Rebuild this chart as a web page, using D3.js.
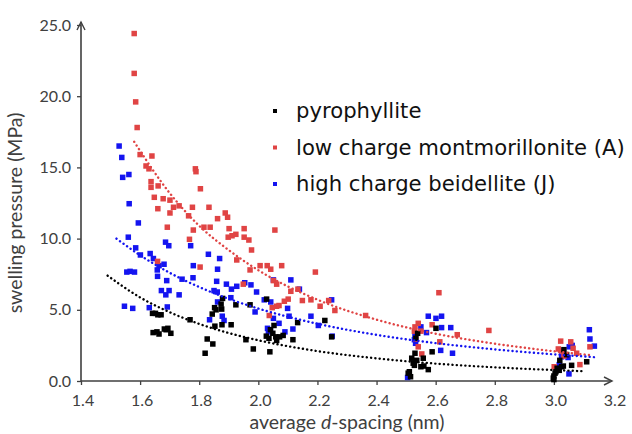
<!DOCTYPE html>
<html lang="en">
<head>
<meta charset="utf-8">
<title>swelling pressure vs d-spacing</title>
<script src="https://cdn.jsdelivr.net/npm/d3@7"></script>
<style>
  body { margin: 0; background: #fff; }
  svg text { font-family: Lato, "Open Sans", sans-serif; fill: #404040; }
  .legend text { font-family: "DejaVu Sans", Verdana, sans-serif; fill: #111; }
</style>
</head>
<body>
<svg id="chart" width="632" height="434"></svg>
<script>
// series data, [d-spacing nm, pressure MPa]
var pyrophyllite = [
  [1.642,4.75],[1.652,4.75],[1.660,4.65],[1.671,4.65],[1.644,3.4],[1.657,3.45],[1.664,3.3],
  [1.682,3.65],[1.694,3.7],[1.704,3.35],[1.688,3.6],[1.769,4.3],[1.827,2.95],[1.846,2.6],
  [1.820,1.95],[1.852,5.15],[1.857,5.0],[1.844,4.7],[1.879,5.8],[1.874,5.4],[1.876,5.05],
  [1.853,3.85],[1.877,3.95],[1.908,3.95],[1.924,5.35],[1.958,2.9],[1.972,5.35],[1.983,2.25],
  [2.028,5.75],[2.053,3.9],[2.041,3.6],[2.027,3.15],[2.036,3.0],[2.049,3.35],[2.059,3.1],
  [2.072,3.1],[2.084,3.2],[2.062,2.85],[2.039,2.05],[2.117,2.9],[2.133,4.1],[2.225,4.25],
  [2.248,3.1],
  [2.511,0.65],[2.515,0.3],[2.507,0.55],[2.519,1.6],[2.524,1.25],[2.528,1.1],[2.536,1.45],
  [2.533,3.0],[2.539,3.35],[2.530,1.95],[2.550,1.0],[2.560,1.05],[2.575,0.8],[2.558,1.6],
  [2.601,3.7],[2.588,2.05],
  [2.998,0.2],[3.000,0.35],[3.004,0.55],[3.007,0.65],[3.011,0.9],[3.018,0.75],[3.026,1.0],
  [3.032,1.05],[3.034,2.2],[3.020,1.45],[3.060,1.1],[3.111,1.35],[3.000,0.1],[3.043,1.85]
];
var lowChargeA = [
  [1.58,24.4],[1.58,21.6],[1.585,19.6],[1.59,17.8],[1.60,15.9],[1.64,15.8],[1.62,15.1],
  [1.63,14.9],[1.637,14.0],[1.637,13.6],[1.661,13.7],[1.787,14.9],[1.789,14.7],[1.804,13.5],
  [1.648,12.9],[1.678,12.8],[1.701,12.7],[1.660,12.1],[1.713,12.2],[1.732,12.3],[1.777,12.2],
  [1.833,12.2],[1.701,11.8],[1.764,11.6],[1.888,11.8],[1.896,11.5],[1.862,11.4],[1.692,10.8],
  [1.780,10.6],[1.816,10.8],[1.837,10.8],[1.901,10.7],[1.924,10.3],[1.911,10.2],[1.898,10.1],
  [1.767,9.95],[1.952,10.7],[2.056,10.6],[1.952,10.1],[1.968,9.9],[1.977,9.2],[1.927,8.5],
  [1.803,8.0],[1.972,7.8],[2.006,8.1],[2.030,8.1],[2.042,7.85],[2.079,8.1],[2.193,7.65],
  [1.659,8.4],[2.051,7.05],[2.062,6.8],[1.949,6.8],[2.134,6.45],[2.110,6.3],[2.101,5.75],
  [2.088,5.6],[2.149,5.65],[2.178,5.7],[2.209,5.25],[2.238,5.65],[2.259,4.95],[2.062,5.25],
  [2.070,5.3],[2.047,5.15],[2.037,4.6],[2.363,4.6],
  [2.611,6.2],[2.541,4.05],[2.530,3.8],[2.528,3.5],[2.550,3.5],[2.588,3.95],[2.614,2.75],
  [2.673,3.25],[2.780,3.55],[2.541,2.4],[2.553,1.9],[2.533,2.95],
  [3.023,2.8],[3.057,2.75],[3.015,2.25],[3.026,2.1],[3.065,2.3],[3.077,1.95],[3.088,1.15],
  [3.122,2.4],[3.001,1.0],[3.034,1.75]
];
var highChargeJ = [
  [1.529,16.5],[1.538,15.7],[1.541,14.3],[1.562,14.5],[1.563,12.45],[1.594,11.1],[1.560,10.1],
  [1.585,9.35],[1.601,8.85],[1.634,8.95],[1.645,8.6],[1.686,9.75],[1.697,9.5],[1.771,9.5],
  [1.831,8.9],[1.869,8.6],[1.664,8.1],[1.681,8.2],[1.658,7.8],[1.659,7.35],[1.555,7.65],
  [1.566,7.7],[1.581,7.65],[1.690,7.05],[1.672,6.35],[1.687,6.05],[1.698,6.35],[1.732,6.05],
  [1.547,5.25],[1.575,5.1],[1.631,5.15],[1.692,5.2],[1.742,7.15],[1.780,8.1],[1.779,7.25],
  [1.862,7.85],[1.859,7.0],[1.850,6.35],[1.861,6.25],[1.862,5.55],[1.835,4.3],[1.892,6.8],
  [1.909,6.45],[1.907,5.85],[1.878,4.55],[1.884,4.25],[1.927,6.65],[1.954,6.9],[1.975,6.75],
  [1.994,6.25],[2.020,5.7],[2.042,5.55],[2.051,7.1],[2.099,5.1],[2.104,4.55],[2.110,7.1],
  [2.139,6.45],[2.031,3.7],[2.041,3.6],[2.034,3.45],[2.051,4.4],[2.178,4.55],[2.203,3.9],
  [2.248,5.7],[2.250,3.15],[2.117,3.65],[2.070,4.05],[2.090,3.45],[1.989,4.85],
  [2.505,0.25],[2.530,3.25],[2.528,2.9],[2.532,2.65],[2.550,3.8],[2.569,3.4],[2.575,4.55],
  [2.601,4.4],[2.620,4.55],[2.620,3.75],[2.651,3.75],[2.617,2.15],[2.657,1.95],
  [3.018,1.15],[3.015,0.9],[3.026,1.7],[3.034,1.85],[3.048,1.65],[3.052,2.4],[3.062,2.5],
  [3.051,0.5],[3.120,3.6],[3.122,2.95],[3.137,2.45]
];

// dotted trend lines, sampled off the figure
var pyroTrend = [[1.49,7.4],[1.6,5.87],[1.7,4.83],[1.8,4.01],[1.9,3.37],[2.0,2.86],[2.2,2.10],
  [2.4,1.59],[2.6,1.22],[2.8,0.96],[3.0,0.77],[3.1,0.69]];
var lowTrend = [[1.58,16.8],[1.7,13.2],[1.8,10.9],[1.9,9.19],[2.0,7.78],[2.2,5.71],[2.4,4.31],
  [2.6,3.32],[2.8,2.62],[3.0,2.09],[3.13,1.8]];
var highTrend = [[1.52,10.0],[1.6,8.83],[1.7,7.6],[1.8,6.6],[1.9,5.77],[2.0,5.09],[2.2,4.02],
  [2.4,3.24],[2.6,2.66],[2.8,2.22],[3.0,1.87],[3.14,1.67]];

var xTicks = [1.4, 1.6, 1.8, 2.0, 2.2, 2.4, 2.6, 2.8, 3.0, 3.2];
var yTicks = [0, 5, 10, 15, 20, 25];
var legendNames = ["pyrophyllite", "low charge montmorillonite (A)", "high charge beidellite (J)"];

var colors = { black: "#000000", red: "#e04444", blue: "#1414f0" };
var axisColor = "#404040";

var svg = d3.select("#chart");
var x = d3.scaleLinear().domain([1.4, 3.2]).range([81, 613]);
var y = d3.scaleLinear().domain([0, 25]).range([381, 25]);

// axes
var gx = svg.append("g").attr("transform", "translate(0," + y(0) + ")")
  .call(d3.axisBottom(x).tickValues(xTicks).tickFormat(d3.format(".1f")).tickSize(4).tickSizeOuter(0));
var gy = svg.append("g").attr("transform", "translate(" + x(1.4) + ",0)")
  .call(d3.axisLeft(y).tickValues(yTicks).tickFormat(d3.format(".1f")).tickSize(4).tickSizeOuter(0));
[gx, gy].forEach(function(g) {
  g.select(".domain").remove();
  g.selectAll(".tick line").attr("stroke", axisColor).attr("stroke-width", 1.3);
  g.selectAll(".tick text").style("font-size", "16px").attr("fill", axisColor);
});
gx.selectAll(".tick text").attr("dy", "1.1em").attr("x", 1.5);
gx.selectAll(".tick").filter(function(d) { return d === 3.2; }).select("line").remove();
gy.selectAll(".tick text").attr("x", -10);

// axis lines with arrow heads
svg.append("path")
  .attr("d", "M" + x(1.4) + "," + (y(25) - 3) + "V" + y(0) + "H" + (x(3.2) - 1))
  .attr("fill", "none").attr("stroke", axisColor).attr("stroke-width", 1.6);
svg.append("path")
  .attr("d", "M" + (x(1.4) - 4) + "," + (y(25) + 5) + "L" + x(1.4) + "," + (y(25) - 3) + "L" + (x(1.4) + 4) + "," + (y(25) + 5))
  .attr("fill", "none").attr("stroke", axisColor).attr("stroke-width", 1.4);
svg.append("path")
  .attr("d", "M" + (x(3.2) - 9) + "," + (y(0) - 4) + "L" + (x(3.2) - 1) + "," + y(0) + "L" + (x(3.2) - 9) + "," + (y(0) + 4))
  .attr("fill", "none").attr("stroke", axisColor).attr("stroke-width", 1.4);

// axis titles
svg.append("text")
  .attr("transform", "translate(22," + y(11.8) + ") rotate(-90)")
  .attr("text-anchor", "middle").style("font-size", "19.5px")
  .text("swelling pressure (MPa)");
var xt = svg.append("text")
  .attr("x", 347).attr("y", 429)
  .attr("text-anchor", "middle").style("font-size", "19.5px");
xt.append("tspan").text("average ");
xt.append("tspan").style("font-style", "italic").text("d");
xt.append("tspan").text("-spacing (nm)");

// points
function drawPoints(data, color) {
  svg.append("g").selectAll("rect").data(data).enter().append("rect")
    .attr("x", function(d) { return x(d[0]) - 2.75; })
    .attr("y", function(d) { return y(d[1]) - 2.75; })
    .attr("width", 5.5).attr("height", 5.5)
    .attr("fill", color);
}
drawPoints(highChargeJ, colors.blue);
drawPoints(lowChargeA, colors.red);
drawPoints(pyrophyllite, colors.black);

// trend lines
var line = d3.line()
  .x(function(d) { return x(d[0]); })
  .y(function(d) { return y(d[1]); })
  .curve(d3.curveMonotoneX);
[[pyroTrend, colors.black], [lowTrend, colors.red], [highTrend, colors.blue]].forEach(function(t) {
  svg.append("path").datum(t[0])
    .attr("d", line)
    .attr("fill", "none")
    .attr("stroke", t[1])
    .attr("stroke-width", 2.4)
    .attr("stroke-linecap", "round")
    .attr("stroke-dasharray", "0.1 4.2");
});

// legend
var legend = svg.append("g").attr("class", "legend");
var legendColors = [colors.black, colors.red, colors.blue];
var legendTexts = [];
legendNames.forEach(function(name, i) {
  var ly = 111 + i * 36.5;
  legend.append("rect").attr("x", 273).attr("y", ly - 2).attr("width", 4).attr("height", 4)
    .attr("fill", legendColors[i]);
  legendTexts.push(legend.append("text").attr("x", 296).attr("y", ly).attr("dy", "0.35em")
    .style("font-size", "20px").text(name));
});
// the long entry runs out to about x=625 in the original, size the font to that
var longest = legendTexts[1].node().getComputedTextLength();
var fs = 20 * 329 / longest;
legendTexts.forEach(function(t) { t.style("font-size", fs + "px"); });
</script>
</body>
</html>
